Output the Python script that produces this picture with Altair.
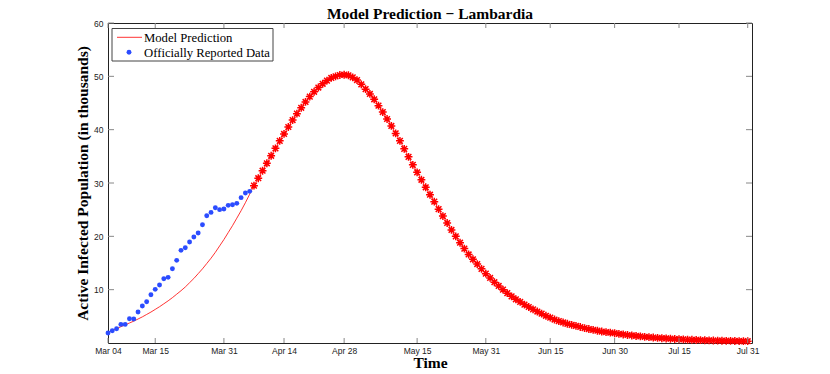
import altair as alt
import pandas as pd

# ---------------- data ----------------
# Model prediction, one value per day starting Mar 04 (thousands)
model_values = [
    2.0, 2.35, 2.7, 3.05, 3.4, 3.75, 4.1, 4.5, 4.9, 5.35,
    5.8, 6.3, 6.8, 7.35, 7.9, 8.5, 9.15, 9.8, 10.5, 11.3,
    12.1, 13.0, 13.9, 14.9, 15.9, 17.0, 18.2, 19.4, 20.7, 22.0,
    23.4, 24.8, 26.3, 27.9, 29.5, 30.9, 32.3, 33.7, 35.1, 36.5,
    37.9, 39.2, 40.5, 41.8, 43.0, 44.1, 45.2, 46.2, 47.1, 47.9,
    48.6, 49.2, 49.7, 50.0, 50.25, 50.3, 50.2, 49.8, 49.3, 48.5,
    47.6, 46.7, 45.7, 44.5, 43.3, 42.0, 40.7, 39.3, 37.9, 36.4,
    34.9, 33.4, 32.0, 30.6, 29.2, 27.8, 26.5, 25.1, 23.8, 22.5,
    21.2, 20.0, 18.8, 17.7, 16.6, 15.7, 14.8, 13.9, 13.0, 12.2,
    11.4, 10.7, 10.0, 9.35, 8.75, 8.2, 7.7, 7.2, 6.75, 6.3,
    5.9, 5.5, 5.1, 4.75, 4.4, 4.1, 3.85, 3.6, 3.4, 3.2,
    3.0, 2.8, 2.62, 2.45, 2.3, 2.15, 2.05, 1.95, 1.83, 1.72,
    1.6, 1.5, 1.41, 1.32, 1.24, 1.16, 1.09, 1.02, 0.96, 0.9,
    0.85, 0.8, 0.75, 0.71, 0.67, 0.63, 0.6, 0.57, 0.54, 0.51,
    0.49, 0.47, 0.45, 0.43, 0.41, 0.39, 0.38, 0.36, 0.35, 0.34,
]
marker_start_day = 34  # first day drawn with the red markers

# Officially reported data, one value per day starting Mar 04 (thousands)
reported_values = [
    1.87, 2.31, 2.68, 3.49, 3.49, 4.56, 4.49, 5.81, 6.93, 7.74,
    9.06, 10.06, 10.87, 12.06, 12.31, 13.93, 15.5, 17.37, 17.87, 18.93,
    19.87, 20.62, 22.18, 23.87, 24.49, 25.37, 25.0, 25.12, 25.81, 25.93,
    26.18, 27.25, 28.12, 28.43,
]

x_tick_days = [0, 11, 27, 41, 55, 72, 88, 103, 118, 133, 149]
x_tick_labels = ["Mar 04", "Mar 15", "Mar 31", "Apr 14", "Apr 28", "May 15",
                 "May 31", "Jun 15", "Jun 30", "Jul 15", "Jul 31"]
y_tick_values = [10, 20, 30, 40, 50, 60]

legend_labels = ["Model Prediction", "Officially Reported Data"]
chart_title = "Model Prediction \u2212 Lambardia"
x_title = "Time"
y_title = "Active Infected Population (in thousands)"

# ---------------- tables ----------------
model_df = pd.DataFrame({"day": list(range(len(model_values))), "value": model_values})
marker_df = model_df[model_df["day"] >= marker_start_day]
reported_df = pd.DataFrame({"day": list(range(len(reported_values))), "value": reported_values})
xt_df = pd.DataFrame({"day": x_tick_days})
yt_df = pd.DataFrame({"value": y_tick_values})
one = pd.DataFrame({"k": [0]})

W, H = 644, 320
RED = "#ff0000"
BLUE = "#2b4cff"
SERIF = "Liberation Serif"
SANS = "Liberation Sans"

x_scale = alt.Scale(domain=[0, 150], nice=False, zero=False)
y_scale = alt.Scale(domain=[0, 60], nice=False, zero=False)

label_expr = ("[" + ",".join("'%s'" % l for l in x_tick_labels) + "][indexof(["
              + ",".join(str(d) for d in x_tick_days) + "], datum.value)]")

x_axis = alt.Axis(values=x_tick_days, labelExpr=label_expr, title=x_title,
                  grid=False, domain=False, ticks=False, tickSize=0,
                  labelFont=SANS, labelFontSize=8.5, labelColor="#222",
                  labelPadding=3, titleFont=SERIF, titleFontSize=15.5,
                  titleFontWeight="bold", titleColor="black", titlePadding=1,
                  labelFlush=False)
y_axis = alt.Axis(values=y_tick_values, title=y_title, grid=False, domain=False,
                  ticks=False, tickSize=0, labelFont=SANS, labelFontSize=8.5,
                  labelColor="#222", labelPadding=5, titleFont=SERIF,
                  titleFontSize=15.5, titleFontWeight="bold", titleColor="black",
                  titlePadding=3, labelFlush=False)

X = alt.X("day:Q", scale=x_scale, axis=x_axis)
Y = alt.Y("value:Q", scale=y_scale, axis=y_axis)

line = alt.Chart(model_df).mark_line(color=RED, strokeWidth=0.8).encode(x=X, y=Y)

dots = alt.Chart(reported_df).mark_point(filled=True, color=BLUE, size=24, opacity=1).encode(x=X, y=Y)

asterisk = "M-1,0L1,0M0,-1L0,1M-0.72,-0.72L0.72,0.72M-0.72,0.72L0.72,-0.72"
markers = alt.Chart(marker_df).mark_point(
    shape=asterisk, filled=False, stroke=RED, strokeWidth=1.5, size=62, opacity=1
).encode(x=X, y=Y)

TICK = "#888888"
xt_bottom = alt.Chart(xt_df).mark_rule(color=TICK, strokeWidth=1).encode(
    x=X, y=alt.value(H), y2=alt.value(H - 5))
xt_top = alt.Chart(xt_df).mark_rule(color=TICK, strokeWidth=1).encode(
    x=X, y=alt.value(0), y2=alt.value(5))
yt_left = alt.Chart(yt_df).mark_rule(color=TICK, strokeWidth=1).encode(
    y=Y, x=alt.value(0), x2=alt.value(6))
yt_right = alt.Chart(yt_df).mark_rule(color=TICK, strokeWidth=1).encode(
    y=Y, x=alt.value(W), x2=alt.value(W - 6))

# legend box (drawn in plot pixel space)
leg_box = alt.Chart(one).mark_rect(fill="white", stroke="#444", strokeWidth=1).encode(
    x=alt.value(4), x2=alt.value(165), y=alt.value(5.5), y2=alt.value(38))
leg_line = alt.Chart(one).mark_rule(color=RED, strokeWidth=0.8).encode(
    x=alt.value(9), x2=alt.value(34), y=alt.value(14.3))
leg_dot = alt.Chart(one).mark_point(filled=True, color=BLUE, size=24, opacity=1).encode(
    x=alt.value(21), y=alt.value(29.3))
leg_t1 = alt.Chart(one).mark_text(text=legend_labels[0], font=SERIF, fontSize=12.7,
                                  align="left", baseline="alphabetic", color="black").encode(
    x=alt.value(36), y=alt.value(18.7))
leg_t2 = alt.Chart(one).mark_text(text=legend_labels[1], font=SERIF, fontSize=12.7,
                                  align="left", baseline="alphabetic", color="black").encode(
    x=alt.value(36), y=alt.value(33.7))

# chart title as a text mark above the plot area
title_mark = alt.Chart(one).mark_text(text=chart_title, font=SERIF, fontSize=15.5,
                                      fontWeight="bold", align="center",
                                      baseline="alphabetic", color="black").encode(
    x=alt.value(W / 2), y=alt.value(-4.5))

chart = alt.layer(
    line, dots, markers, xt_bottom, xt_top, yt_left, yt_right,
    leg_box, leg_line, leg_dot, leg_t1, leg_t2, title_mark,
).properties(
    width=W, height=H,
    padding={"left": 100, "top": 15, "right": 70, "bottom": 30},
    autosize=alt.AutoSizeParams(type="none"),
).configure_view(stroke="#222", strokeWidth=1)

chart.save("out.html", embed_options={"renderer": "svg", "actions": False})
